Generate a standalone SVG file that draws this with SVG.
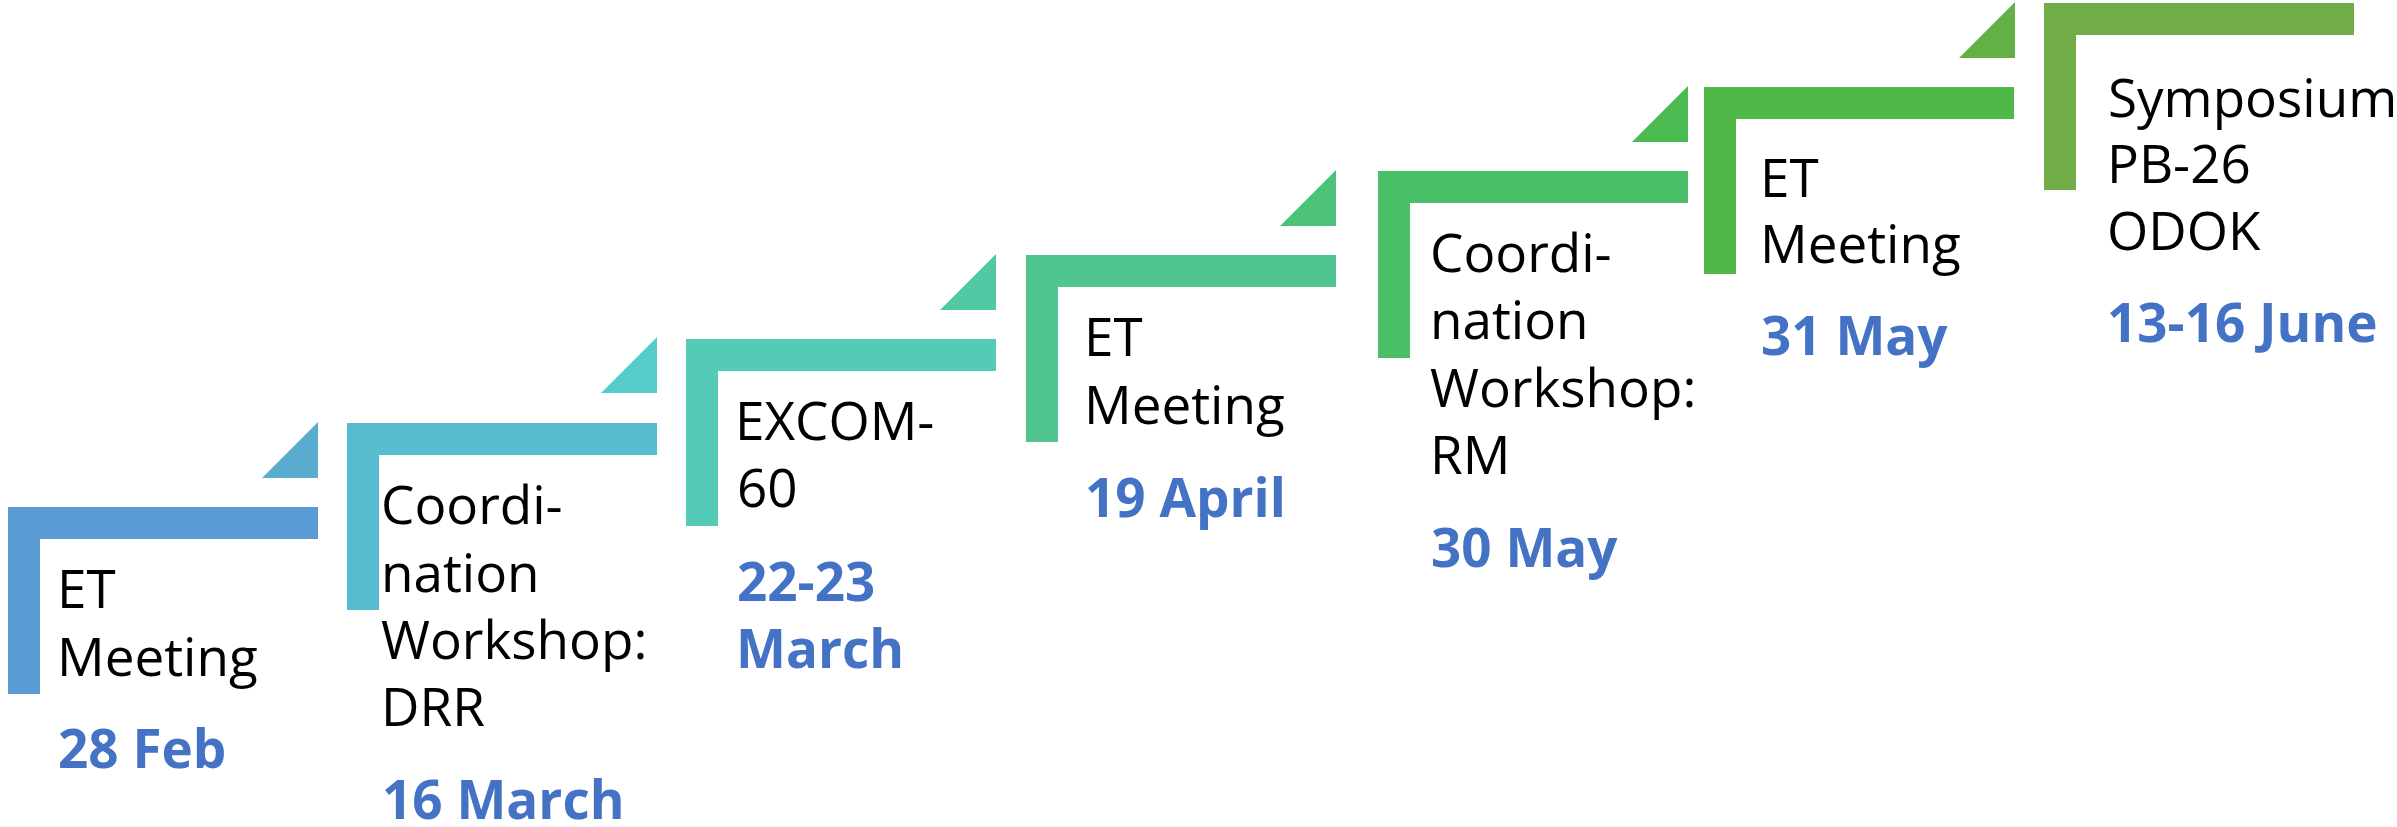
<svg xmlns="http://www.w3.org/2000/svg" width="2397" height="827" viewBox="0 0 2397 827">
<style>
.t{font-family:"Open Sans","Liberation Sans",sans-serif;font-size:53px;fill:#000}
.d{font-family:"Open Sans","Liberation Sans",sans-serif;font-size:53px;font-weight:bold;fill:#4472C4}
</style>
<defs>
<path id="L" d="M0,0H310V32H32V187H0Z"/>
<path id="T" d="M-56,0L0,-56V0Z"/>
</defs>
<rect width="2397" height="827" fill="#fff"/>
<g id="connectors">
<use href="#T" x="318" y="478" fill="#5AACCE"/>
<use href="#T" x="657" y="393" fill="#55CCCB"/>
<use href="#T" x="996" y="310" fill="#51C8A4"/>
<use href="#T" x="1336" y="226" fill="#4CC27B"/>
<use href="#T" x="1688" y="142" fill="#4ABB50"/>
<use href="#T" x="2015" y="58" fill="#62B046"/>
</g>
<g id="node1">
<use href="#L" x="8" y="507" fill="#5B9BD5"/>
<text class="t" x="57" y="608">ET</text>
<text class="t" x="57" y="676">Meeting</text>
<text class="d" x="58" y="768">28 Feb</text>
</g>
<g id="node2">
<use href="#L" x="347" y="423" fill="#58BCD0"/>
<text class="t" x="381" y="524">Coordi-</text>
<text class="t" x="381" y="592">nation</text>
<text class="t" x="381" y="659">Workshop:</text>
<text class="t" x="381" y="726">DRR</text>
<text class="d" x="382" y="819">16 March</text>
</g>
<g id="node3">
<use href="#L" x="686" y="339" fill="#54CBB6"/>
<text class="t" x="735" y="440">EXCOM-</text>
<text class="t" x="737" y="507">60</text>
<text class="d" x="737" y="601">22-23</text>
<text class="d" x="736" y="668">March</text>
</g>
<g id="node4">
<use href="#L" x="1026" y="255" fill="#50C590"/>
<text class="t" x="1084" y="356">ET</text>
<text class="t" x="1084" y="424">Meeting</text>
<text class="d" x="1085" y="517">19 April</text>
</g>
<g id="node5">
<use href="#L" x="1378" y="171" fill="#4ABF67"/>
<text class="t" x="1430" y="272">Coordi-</text>
<text class="t" x="1430" y="339">nation</text>
<text class="t" x="1430" y="407">Workshop:</text>
<text class="t" x="1430" y="474">RM</text>
<text class="d" x="1431" y="567">30 May</text>
</g>
<g id="node6">
<use href="#L" x="1704" y="87" fill="#50B848"/>
<text class="t" x="1760" y="197">ET</text>
<text class="t" x="1760" y="263">Meeting</text>
<text class="d" x="1761" y="355">31 May</text>
</g>
<g id="node7">
<use href="#L" x="2044" y="3" fill="#70AD47"/>
<text class="t" x="2108" y="117">Symposium</text>
<text class="t" x="2107" y="183">PB-26</text>
<text class="t" x="2107" y="250">ODOK</text>
<text class="d" x="2107" y="342">13-16 June</text>
</g>
</svg>
